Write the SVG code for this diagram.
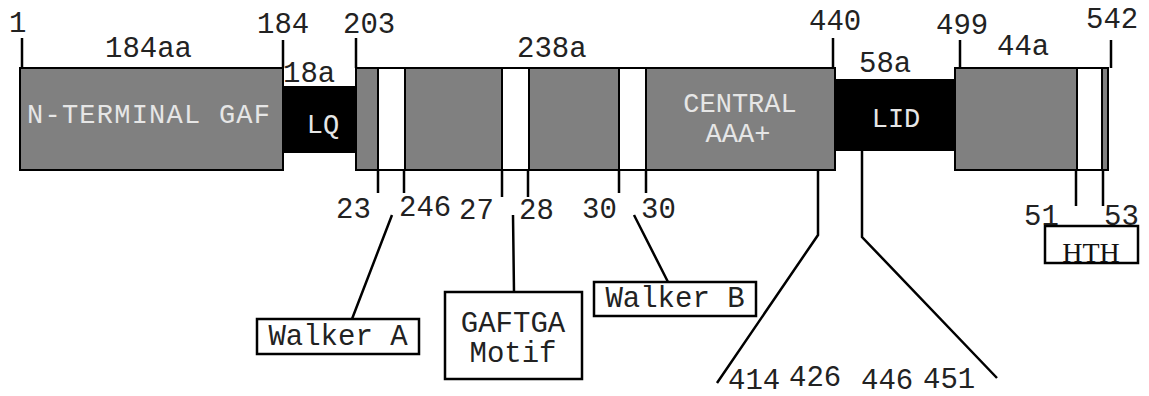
<svg xmlns="http://www.w3.org/2000/svg" width="1149" height="396" viewBox="0 0 1149 396">
<style>
.t{font-family:"Liberation Mono","Courier New",monospace;font-size:29px;fill:#222}
.in{font-family:"Liberation Mono","Courier New",monospace;font-size:27px;fill:#e6e6e6}
.dom{fill:#808080;stroke:#000;stroke-width:2}
.blk{fill:#000;stroke:#000;stroke-width:2}
.wht{fill:#fff;stroke:#000;stroke-width:2}
.box{fill:#fff;stroke:#000;stroke-width:2.5}
.ln{stroke:#000;stroke-width:2.5;fill:none}
</style>
<rect width="1149" height="396" fill="#fff"/>
<g id="connectors">
<path class="ln" d="M22 38V68M283 40V68M356 38V68M833 38V68M960 40V68M1111 40V68"/>
<path class="ln" d="M378 170V193M404 170V193M502 170V197M528 170V197M619 170V193M646 170V193M1076 170V206M1103 170V206"/>
<path class="ln" d="M392 215L352 319M513 215L514 292M634 215L668 282"/>
<path class="ln" d="M818 170V235L717 383M862 150V237L997 378"/>
</g>
<g id="gaf">
<rect class="dom" x="20" y="68" width="263" height="102"/>
<text class="in" x="27" y="123" textLength="243">N-TERMINAL GAF</text>
</g>
<g id="lq">
<rect class="blk" x="283" y="87" width="73" height="65"/>
<text class="in" x="323" y="133" text-anchor="middle">LQ</text>
</g>
<g id="central">
<rect class="dom" x="356" y="68" width="479" height="102"/>
<rect class="wht" x="378" y="68" width="27" height="102"/>
<rect class="wht" x="502" y="68" width="27" height="102"/>
<rect class="wht" x="619" y="68" width="27" height="102"/>
<text class="in" x="740" y="112" text-anchor="middle">CENTRAL</text>
<text class="in" x="738" y="142" text-anchor="middle">AAA+</text>
</g>
<g id="lid">
<rect class="blk" x="835" y="80" width="120" height="70"/>
<text class="in" x="896" y="127" text-anchor="middle">LID</text>
</g>
<g id="cterm">
<rect class="dom" x="955" y="68" width="153" height="102"/>
<rect class="wht" x="1077" y="68" width="25" height="102"/>
</g>
<g id="top-labels">
<text class="t" x="9" y="32">1</text>
<text class="t" x="105" y="57">184aa</text>
<text class="t" x="257" y="33">184</text>
<text class="t" x="283" y="82">18a</text>
<text class="t" x="343" y="33">203</text>
<text class="t" x="517" y="57">238a</text>
<text class="t" x="809" y="30">440</text>
<text class="t" x="859" y="72">58a</text>
<text class="t" x="936" y="34">499</text>
<text class="t" x="997" y="55">44a</text>
<text class="t" x="1086" y="28">542</text>
</g>
<g id="bottom-labels">
<text class="t" x="336" y="218">23</text>
<text class="t" x="399" y="216">246</text>
<text class="t" x="459" y="219">27</text>
<text class="t" x="519" y="219">28</text>
<text class="t" x="582" y="218">30</text>
<text class="t" x="641" y="218">30</text>
<text class="t" x="728" y="389">414</text>
<text class="t" x="789" y="386">426</text>
<text class="t" x="861" y="389">446</text>
<text class="t" x="923" y="388">451</text>
<text class="t" x="1024" y="225">51</text>
<text class="t" x="1104" y="225">53</text>
</g>
<g id="walkerA">
<rect class="box" x="257" y="319" width="162" height="35"/>
<text class="t" x="338" y="345" text-anchor="middle">Walker A</text>
</g>
<g id="gaftga">
<rect class="box" x="445" y="292" width="137" height="87"/>
<text class="t" x="513" y="332" text-anchor="middle">GAFTGA</text>
<text class="t" x="513" y="362" text-anchor="middle">Motif</text>
</g>
<g id="walkerB">
<rect class="box" x="594" y="282" width="162" height="34"/>
<text class="t" x="675" y="307" text-anchor="middle">Walker B</text>
</g>
<g id="hth">
<rect class="box" x="1045" y="226" width="93" height="37"/>
<text x="1091" y="262" text-anchor="middle" style="font-family:'Liberation Serif','Times New Roman',serif;font-size:28px;fill:#111">HTH</text>
</g>
</svg>
